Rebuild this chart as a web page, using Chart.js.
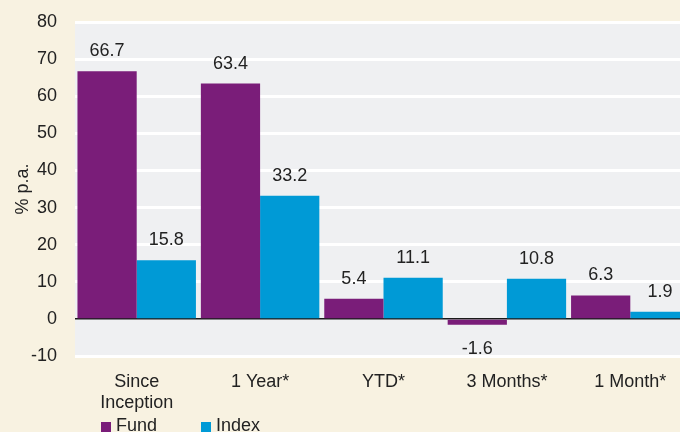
<!DOCTYPE html>
<html>
<head>
<meta charset="utf-8">
<script src="https://cdn.jsdelivr.net/npm/chart.js@4"></script>
<style>
  html, body { margin: 0; padding: 0; background: #f8f2e1; overflow: hidden; }
  body { width: 680px; height: 432px; position: relative; font-family: "Liberation Sans", Arial, sans-serif; }
  #wrap { position: absolute; left: 0; top: 0; width: 692px; height: 432px; }
  .legend { position: absolute; top: 414px; font-size: 18px; color: #222; }
  .legend span.box { position: absolute; left: 0; top: 8px; width: 10px; height: 10px; }
  .legend span.txt { position: absolute; left: 15px; top: 0; white-space: nowrap; line-height: 22px; }
</style>
</head>
<body>
<div id="wrap"><canvas id="perfChart"></canvas></div>
<div class="legend" style="left:101px"><span class="box" style="background:#7a1d79"></span><span class="txt">Fund</span></div>
<div class="legend" style="left:201px"><span class="box" style="background:#009ad6"></span><span class="txt">Index</span></div>
<script>
// Performance data
const categories = [['Since', 'Inception'], '1 Year*', 'YTD*', '3 Months*', '1 Month*'];
const fundValues = [66.7, 63.4, 5.4, -1.6, 6.3];
const indexValues = [15.8, 33.2, 11.1, 10.8, 1.9];
const seriesNames = ['Fund', 'Index'];
const seriesColors = ['#7a1d79', '#009ad6'];

const FONT = '"Liberation Sans", Arial, sans-serif';
Chart.defaults.font.family = FONT;
Chart.defaults.font.size = 18;
Chart.defaults.color = '#222';

// Gray plot area behind the bars
const plotBackground = {
    id: 'plotBackground',
    beforeDraw(chart) {
        const a = chart.chartArea;
        const ctx = chart.ctx;
        ctx.save();
        ctx.fillStyle = '#eff0f2';
        ctx.fillRect(a.left, a.top, a.right - a.left, a.bottom - a.top);
        ctx.restore();
    }
};

// Value labels above (or below for negatives) each bar
const valueLabels = {
    id: 'valueLabels',
    afterDatasetsDraw(chart) {
        const ctx = chart.ctx;
        ctx.save();
        ctx.font = '18px ' + FONT;
        ctx.fillStyle = '#222';
        ctx.textAlign = 'center';
        chart.data.datasets.forEach((ds, i) => {
            chart.getDatasetMeta(i).data.forEach((bar, j) => {
                const v = ds.data[j];
                if (v >= 0) {
                    ctx.textBaseline = 'bottom';
                    ctx.fillText(v.toFixed(1), bar.x, bar.y - 11);
                } else {
                    ctx.textBaseline = 'top';
                    ctx.fillText(v.toFixed(1), bar.x, bar.y + 15);
                }
            });
        });
        ctx.restore();
    }
};

new Chart(document.getElementById('perfChart'), {
    type: 'bar',
    data: {
        labels: categories,
        datasets: [
            { label: seriesNames[0], data: fundValues, backgroundColor: seriesColors[0] },
            { label: seriesNames[1], data: indexValues, backgroundColor: seriesColors[1] }
        ]
    },
    options: {
        responsive: true,
        maintainAspectRatio: false,
        animation: false,
        layout: { padding: { top: 22, right: 0, bottom: 0, left: 0 } },
        datasets: { bar: { categoryPercentage: 0.96, barPercentage: 1.0, borderWidth: 0 } },
        plugins: {
            legend: { display: false },
            tooltip: { enabled: false }
        },
        scales: {
            x: {
                grid: { display: false },
                border: { display: false },
                ticks: {
                    color: '#222',
                    font: { family: FONT, size: 18, lineHeight: 1.15 },
                    padding: 8,
                    maxRotation: 0,
                    autoSkip: false
                },
                afterFit(scale) { scale.height = 76; }
            },
            y: {
                min: -10,
                max: 80,
                border: { display: false },
                grid: {
                    drawTicks: true,
                    tickLength: 15,
                    tickColor: 'rgba(0,0,0,0)',
                    color: ctx => ctx.tick.value === 0 ? '#1a1a1a' : '#ffffff',
                    lineWidth: ctx => ctx.tick.value === 0 ? 1.5 : 3
                },
                ticks: {
                    stepSize: 10,
                    color: '#222',
                    padding: 3,
                    font: { family: FONT, size: 18 }
                },
                title: {
                    display: true,
                    text: '% p.a.',
                    color: '#222',
                    font: { family: FONT, size: 18 },
                    padding: { top: 12, bottom: 0 }
                },
                afterFit(scale) { scale.width = 75; }
            }
        }
    },
    plugins: [plotBackground, valueLabels]
});
</script>
</body>
</html>
